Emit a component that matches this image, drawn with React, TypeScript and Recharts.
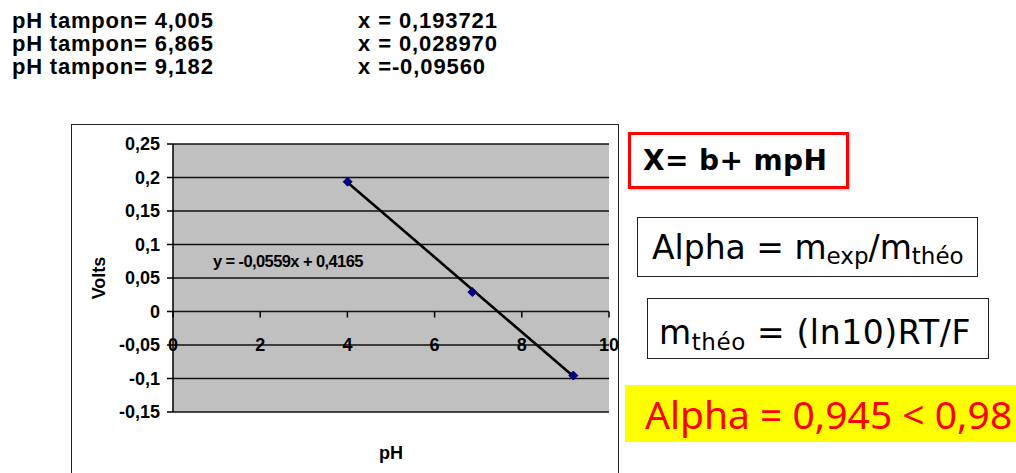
import React from "react";
import {
  ScatterChart,
  Scatter,
  XAxis,
  YAxis,
  CartesianGrid,
  ReferenceDot,
} from "recharts";

// buffer measurements (pH of buffer, measured potential in volts)
const bufferPh = [4.005, 6.865, 9.182];
const bufferVolts = [0.193721, 0.02897, -0.0956];
const bufferPhText = ["4,005", "6,865", "9,182"];
const bufferVoltText = ["x = 0,193721", "x = 0,028970", "x =-0,09560"];

// Excel linear trendline end points
const trendPh = [4.005, 9.182];
const trendVolts = [0.1926, -0.0968];

const yTicks = [-0.15, -0.1, -0.05, 0, 0.05, 0.1, 0.15, 0.2, 0.25];
const xTicks = [0, 2, 4, 6, 8, 10];

const points = bufferPh.map((ph, i) => ({ ph, v: bufferVolts[i] }));
const trend = trendPh.map((ph, i) => ({ ph, v: trendVolts[i] }));

const ARIAL = '"Liberation Sans", Arial, sans-serif';
const TAHOMA = '"DejaVu Sans", Verdana, sans-serif';

const fmt = (v: number) => String(v).replace(".", ",");

const Diamond = (p: any) => {
  const { cx, cy } = p;
  if (cx == null || cy == null) return <g />;
  const r = 4.5;
  return (
    <polygon
      points={`${cx},${cy - r} ${cx + r},${cy} ${cx},${cy + r} ${cx - r},${cy}`}
      fill="#000080"
      stroke="#000080"
      strokeWidth={1}
    />
  );
};

const NoDot = () => <g />;

function XTickMark(p: any) {
  const { cx, cy, value } = p;
  return (
    <g>
      <line x1={cx} x2={cx} y1={cy} y2={cy + 6} stroke="#000" strokeWidth={1.5} />
      <text
        x={cx}
        y={cy + 33}
        dy="0.355em"
        textAnchor="middle"
        fontFamily={ARIAL}
        fontWeight="bold"
        fontSize={18}
        fill="#000"
      >
        {value}
      </text>
    </g>
  );
}

const VoltsLabel = (p: any) => {
  const vb = p.viewBox || {};
  const x = (vb.x ?? 0) + 27;
  const y = (vb.y ?? 0) + (vb.height ?? 0) / 2;
  return (
    <text
      x={x}
      y={y}
      transform={`rotate(-90 ${x} ${y})`}
      textAnchor="middle"
      dominantBaseline="central"
      fontFamily={ARIAL}
      fontWeight="bold"
      fontSize={18}
      fill="#000"
    >
      Volts
    </text>
  );
};

const boxText: React.CSSProperties = {
  position: "absolute",
  boxSizing: "border-box",
  display: "flex",
  alignItems: "center",
  fontFamily: TAHOMA,
  fontSize: 33,
  color: "#000",
  whiteSpace: "nowrap",
};

const sub: React.CSSProperties = {
  fontSize: 23,
  position: "relative",
  top: 9,
};

const topLine: React.CSSProperties = {
  position: "absolute",
  fontFamily: ARIAL,
  fontWeight: "bold",
  fontSize: 22,
  lineHeight: "23px",
  whiteSpace: "nowrap",
};

export default function App() {
  return (
    <div
      style={{
        position: "absolute",
        left: 0,
        top: 0,
        width: 1016,
        height: 473,
        overflow: "hidden",
        background: "#fff",
      }}
    >
      {/* buffer readings */}
      {bufferPhText.map((t, i) => (
        <React.Fragment key={t}>
          <div style={{ ...topLine, left: 12, top: 9 + i * 23, letterSpacing: 0.8 }}>
            pH tampon= {t}
          </div>
          <div style={{ ...topLine, left: 358, top: 9 + i * 23, letterSpacing: 0.9 }}>
            {bufferVoltText[i]}
          </div>
        </React.Fragment>
      ))}

      {/* chart frame */}
      <div
        style={{
          position: "absolute",
          left: 71,
          top: 124,
          width: 548,
          height: 370,
          border: "1.5px solid #222",
          boxSizing: "border-box",
        }}
      />
      <div style={{ position: "absolute", left: 72, top: 125 }}>
        <ScatterChart
          width={555}
          height={348}
          margin={{ top: 19, right: 18, left: 0, bottom: 0 }}
        >
          <CartesianGrid
            vertical={false}
            stroke="#111"
            strokeWidth={1.3}
            fill="#c0c0c0"
            fillOpacity={1}
          />
          <XAxis
            type="number"
            dataKey="ph"
            domain={[0, 10]}
            ticks={xTicks}
            height={61}
            axisLine={false}
            tickLine={false}
            tick={false}
            label={{
              value: "pH",
              position: "insideBottom",
              offset: 14,
              style: {
                fontFamily: ARIAL,
                fontWeight: "bold",
                fontSize: 18,
                fill: "#000",
              },
            }}
          />
          <YAxis
            type="number"
            dataKey="v"
            domain={[-0.15, 0.25]}
            ticks={yTicks}
            interval={0}
            width={101}
            tickFormatter={fmt}
            tickSize={6}
            tickMargin={7}
            axisLine={{ stroke: "#000", strokeWidth: 1.5 }}
            tickLine={{ stroke: "#000", strokeWidth: 1.5 }}
            tick={{
              fontFamily: ARIAL,
              fontWeight: "bold",
              fontSize: 18,
              fill: "#000",
            }}
            label={<VoltsLabel />}
          />
          {xTicks.map((t) => (
            <ReferenceDot
              key={t}
              x={t}
              y={0}
              r={0}
              ifOverflow="visible"
              shape={(p: any) => <XTickMark {...p} value={t} />}
            />
          ))}
          <Scatter
            data={trend}
            line={{ stroke: "#000", strokeWidth: 2.6 }}
            shape={NoDot}
            isAnimationActive={false}
          />
          <Scatter data={points} shape={Diamond} isAnimationActive={false} />
        </ScatterChart>
      </div>

      {/* trendline equation */}
      <div
        style={{
          position: "absolute",
          left: 213,
          top: 251,
          fontFamily: ARIAL,
          fontWeight: "bold",
          fontSize: 16.5,
          lineHeight: "20px",
          letterSpacing: -0.6,
          whiteSpace: "nowrap",
        }}
      >
        y = -0,0559x + 0,4165
      </div>

      {/* right-hand notes */}
      <div
        style={{
          ...boxText,
          left: 628,
          top: 132,
          width: 221,
          height: 57,
          border: "3px solid #ff0000",
          paddingLeft: 12,
          fontSize: 28,
          fontWeight: "bold",
          letterSpacing: 0.4,
          boxShadow: "1px 1px 2px rgba(0,0,0,0.25)",
        }}
      >
        X= b+ mpH
      </div>
      <div
        style={{
          ...boxText,
          left: 637,
          top: 217,
          width: 341,
          height: 60,
          border: "1.5px solid #222",
          paddingLeft: 14,
        }}
      >
        Alpha = m<span style={sub}>exp</span>/m<span style={sub}>théo</span>
      </div>
      <div
        style={{
          ...boxText,
          left: 647,
          top: 298,
          width: 342,
          height: 61,
          border: "1.5px solid #222",
          paddingLeft: 11,
          paddingTop: 8,
          letterSpacing: 0.6,
        }}
      >
        m<span style={sub}>théo</span>&nbsp;= (ln10)RT/F
      </div>
      <div
        style={{
          ...boxText,
          left: 625,
          top: 385,
          width: 391,
          height: 57,
          background: "#ffff00",
          paddingLeft: 20,
          fontFamily: '"Noto Sans", Tahoma, sans-serif',
          fontSize: 39,
          color: "#ff0000",
        }}
      >
        Alpha = 0,945 &lt; 0,98
      </div>
    </div>
  );
}
